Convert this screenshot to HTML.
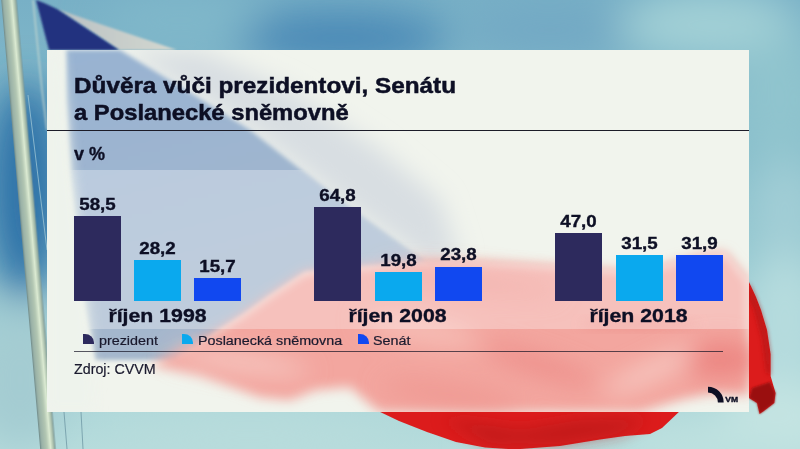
<!DOCTYPE html>
<html><head><meta charset="utf-8">
<style>
html,body{margin:0;padding:0;width:800px;height:449px;overflow:hidden;}
body{position:relative;font-family:"Liberation Sans",sans-serif;background:#7db3c8;}
#bg{position:absolute;left:0;top:0;width:800px;height:449px;}
#panel{position:absolute;left:47px;top:50px;width:702px;height:362px;}
.t{position:absolute;white-space:nowrap;color:#0d0f24;line-height:1;}
.b{-webkit-text-stroke:0.35px #0d0f24;}
#tt1,#tt2{-webkit-text-stroke:0.5px #0d0f24;}
.b{font-weight:bold;}
.bar{position:absolute;}
.c1{background:#2d2a5d;}
.c2{background:#0aa9ee;}
.c3{background:#1148f0;}
.hl{position:absolute;height:1.5px;background:#2a2a3a;}
.ico{position:absolute;width:10.8px;height:10.3px;border-top-right-radius:9px 8.5px;}
</style></head><body>
<svg id="bg" width="800" height="449" viewBox="0 0 800 449">
<defs>
<linearGradient id="sky" x1="0" y1="0" x2="0" y2="1">
<stop offset="0" stop-color="#78b0c6"/>
<stop offset="0.45" stop-color="#8cc2cd"/>
<stop offset="1" stop-color="#b6dcdc"/>
</linearGradient>
<linearGradient id="pole" x1="0" y1="0" x2="1" y2="0">
<stop offset="0" stop-color="#6c8888"/>
<stop offset="0.12" stop-color="#98b0a6"/>
<stop offset="0.45" stop-color="#b2c6b2"/>
<stop offset="0.68" stop-color="#dbead2"/>
<stop offset="0.85" stop-color="#aec2ae"/>
<stop offset="1" stop-color="#7a9898"/>
</linearGradient>
<linearGradient id="wstripe" x1="0" y1="0" x2="1" y2="0">
<stop offset="0" stop-color="#b9c1c4"/>
<stop offset="1" stop-color="#d4d8d0"/>
</linearGradient>
<filter id="bl05" x="-50%" y="-50%" width="200%" height="200%"><feGaussianBlur stdDeviation="0.5"/></filter>
<filter id="bl1" x="-50%" y="-50%" width="200%" height="200%"><feGaussianBlur stdDeviation="0.8"/></filter>
<filter id="bl2" x="-50%" y="-50%" width="200%" height="200%"><feGaussianBlur stdDeviation="2"/></filter>
<filter id="bl8" x="-50%" y="-50%" width="200%" height="200%"><feGaussianBlur stdDeviation="8"/></filter>
<filter id="bl20" x="-50%" y="-50%" width="200%" height="200%"><feGaussianBlur stdDeviation="20"/></filter>
</defs>
<rect width="800" height="449" fill="url(#sky)"/>
<g filter="url(#bl20)">
<ellipse cx="25" cy="190" rx="40" ry="110" fill="#2f72a8"/>
<ellipse cx="20" cy="380" rx="50" ry="70" fill="#a4ccd2"/>
<ellipse cx="340" cy="38" rx="110" ry="28" fill="#4a88b6"/>
<ellipse cx="180" cy="20" rx="80" ry="25" fill="#80b8ca"/>
<ellipse cx="550" cy="30" rx="90" ry="25" fill="#72a8c4"/>
<ellipse cx="710" cy="25" rx="90" ry="35" fill="#a2d0d6"/>
<ellipse cx="780" cy="100" rx="45" ry="70" fill="#90c4ce"/>
<ellipse cx="785" cy="210" rx="35" ry="50" fill="#a2ced6"/>
<ellipse cx="785" cy="320" rx="40" ry="70" fill="#b6dcde"/>
<ellipse cx="780" cy="420" rx="60" ry="40" fill="#c4e4e2"/>
<ellipse cx="250" cy="440" rx="150" ry="25" fill="#b8dcdc"/>
<ellipse cx="700" cy="445" rx="80" ry="20" fill="#c0e2e0"/>
</g>
<!-- rope -->
<polyline points="33,0 36,30 42,90 47,130" stroke="#c8d8d0" stroke-width="1.2" fill="none" filter="url(#bl1)"/>
<line x1="28" y1="95" x2="47" y2="250" stroke="#9cc4d4" stroke-width="0.8"/>
<line x1="64" y1="412" x2="67" y2="449" stroke="#6f98a4" stroke-width="0.8"/>
<line x1="81" y1="412" x2="83" y2="449" stroke="#6f98a4" stroke-width="0.8"/>
<!-- flag white stripe (outside) -->
<polygon points="57,9 100,24 177,50 119,50" fill="url(#wstripe)" filter="url(#bl1)"/>
<!-- flag blue (outside) -->
<polygon points="36,0 44,3 57,9 119,50 49,50" fill="#22307f" filter="url(#bl1)"/>
<!-- red right bulge -->
<polygon points="745,282 749,282 756,297 761,310 767,330 770.6,354 770.6,376 775.5,393 774.3,403 764.5,410.5 759.6,414 757,403 749,398 745,398" fill="#dc1a1a" filter="url(#bl05)"/>
<polygon points="749,282 756,297 761,310 767,330 770.6,354 770.6,376 766,372 762,340 754,310 749,300" fill="#a81212" opacity="0.55" filter="url(#bl2)"/>
<polygon points="752,388 770,382 775.5,393 774.3,403 764.5,410.5 759.6,414 757,403 749,398" fill="#8a1010" opacity="0.8" filter="url(#bl1)"/>
<!-- red bottom -->
<polygon points="376,410 681,410 662,428 650,434 625,436 600,439.5 560,446 514,449.5 485,447.5 456,442 427,432 399,421" fill="#dc1c1c" filter="url(#bl05)"/>
<polygon points="440,418 520,430 580,420 650,418 620,434 560,444 490,444" fill="#b01a1a" opacity="0.6" filter="url(#bl8)"/>
<!-- pole -->
<g transform="translate(1,-2) rotate(-4.96)"><rect x="0" y="0" width="15.5" height="460" fill="url(#pole)" filter="url(#bl05)"/></g>
</svg>
<svg id="panel" width="702" height="362" viewBox="47 50 702 362">
<defs>
<filter id="pb2" x="-50%" y="-50%" width="200%" height="200%"><feGaussianBlur stdDeviation="2"/></filter>
<filter id="pb6" x="-50%" y="-50%" width="200%" height="200%"><feGaussianBlur stdDeviation="6"/></filter>
<filter id="pb12" x="-50%" y="-50%" width="200%" height="200%"><feGaussianBlur stdDeviation="12"/></filter>
<linearGradient id="bluegr" x1="0" y1="0" x2="0.3" y2="1">
<stop offset="0" stop-color="#98b3d2"/>
<stop offset="1" stop-color="#a6b8cc"/>
</linearGradient>
<clipPath id="bandclip"><rect x="47" y="170" width="702" height="159"/></clipPath>
<mask id="bandmask" maskUnits="userSpaceOnUse" x="47" y="50" width="702" height="362"><g clip-path="url(#bandclip)"><g filter="url(#pb2)"><polygon points="66,50 120,50 202,100 250,130 350,208 425,262 345,268 305,272 270,295 242,315 215,332 195,348 175,360 95,360 84,300 70,170 66,100" fill="#fff"/><polygon points="345,268 425,262 480,262 560,266 640,272 700,255 725,252 749,281 749,395 712,393 680,400 640,412 380,412 365,400 350,387 315,390 290,400 260,397 200,375 150,365 180,350 215,332 242,315 270,295 305,272" fill="#fff"/></g></g></mask>
</defs>
<rect x="47" y="50" width="702" height="362" fill="#f1f4ed"/>

<polygon points="120,50 200,50 290,90 380,150 440,200 460,262 425,262 350,208 250,130 202,100" fill="#d8dee2" filter="url(#pb12)"/>
<polygon points="66,50 120,50 202,100 250,130 350,208 425,262 345,268 305,272 270,295 242,315 215,332 195,348 175,360 95,360 84,300 70,170 66,100" fill="url(#bluegr)" filter="url(#pb2)"/>
<polygon points="345,268 425,262 480,262 560,266 640,272 700,255 725,252 749,281 749,395 712,393 680,400 640,412 380,412 365,400 350,387 315,390 290,400 260,397 200,375 150,365 180,350 215,332 242,315 270,295 305,272" fill="#f3a69f" filter="url(#pb6)"/>
<g filter="url(#pb12)">
<ellipse cx="470" cy="282" rx="90" ry="9" fill="#ee948e" transform="rotate(6 470 282)"/>
<ellipse cx="540" cy="365" rx="60" ry="8" fill="#ec8a86" transform="rotate(18 540 365)"/>
<ellipse cx="720" cy="360" rx="40" ry="18" fill="#ec8682"/>
<ellipse cx="240" cy="362" rx="70" ry="9" fill="#f6cac4" transform="rotate(8 240 362)"/>
<ellipse cx="450" cy="395" rx="70" ry="9" fill="#ee9690" transform="rotate(8 450 395)"/>
<ellipse cx="420" cy="330" rx="60" ry="12" fill="#f6c0b8" transform="rotate(10 420 330)"/>
<ellipse cx="650" cy="372" rx="50" ry="7" fill="#f8d4ce" transform="rotate(-25 650 372)"/>
</g>
<ellipse cx="640" cy="324" rx="60" ry="5" fill="#ee948e" filter="url(#pb6)"/>

<rect x="47" y="170" width="702" height="159" fill="#fff" fill-opacity="0.3" mask="url(#bandmask)"/>
<polygon points="47,50 62,50 72,170 90,330 95,412 47,412" fill="#eef3ec" filter="url(#pb6)"/>
</svg>
<div class="hl" style="left:47px;top:129.6px;width:702px;height:1.4px;background:#1c1c28;"></div>

<div class="t b" id="tt1" style="left:74px;top:75.1px;font-size:22px;transform:scaleX(1.104);transform-origin:0 0;">Důvěra vůči prezidentovi, Senátu</div>
<div class="t b" id="tt2" style="left:74px;top:101.6px;font-size:22px;transform:scaleX(1.08);transform-origin:0 0;">a Poslanecké sněmovně</div>
<div class="t b" id="vp" style="left:74px;top:145px;font-size:18px;">v %</div>

<!-- bars: bottom 301 -->
<div class="bar c1" style="left:73.5px;top:216.0px;width:47px;height:85.20px;"></div>
<div class="bar c2" style="left:133.7px;top:260.0px;width:47.3px;height:41.20px;"></div>
<div class="bar c3" style="left:194px;top:278.0px;width:47px;height:23.20px;"></div>
<div class="bar c1" style="left:314px;top:207.0px;width:47px;height:94.20px;"></div>
<div class="bar c2" style="left:374.5px;top:272.0px;width:47px;height:29.20px;"></div>
<div class="bar c3" style="left:435px;top:266.5px;width:47px;height:34.70px;"></div>
<div class="bar c1" style="left:555px;top:233.0px;width:47px;height:68.20px;"></div>
<div class="bar c2" style="left:615.5px;top:255.3px;width:47px;height:45.90px;"></div>
<div class="bar c3" style="left:675.8px;top:255.0px;width:47px;height:46.20px;"></div>

<div class="t b v" style="left:58.5px;width:77px;text-align:center;top:196.56px;font-size:16px;transform:scaleX(1.17);">58,5</div>
<div class="t b v" style="left:118.69999999999999px;width:77px;text-align:center;top:240.56px;font-size:16px;transform:scaleX(1.17);">28,2</div>
<div class="t b v" style="left:179px;width:77px;text-align:center;top:258.56px;font-size:16px;transform:scaleX(1.17);">15,7</div>
<div class="t b v" style="left:299px;width:77px;text-align:center;top:187.56px;font-size:16px;transform:scaleX(1.17);">64,8</div>
<div class="t b v" style="left:359.5px;width:77px;text-align:center;top:252.56px;font-size:16px;transform:scaleX(1.17);">19,8</div>
<div class="t b v" style="left:420px;width:77px;text-align:center;top:247.06px;font-size:16px;transform:scaleX(1.17);">23,8</div>
<div class="t b v" style="left:540px;width:77px;text-align:center;top:213.56px;font-size:16px;transform:scaleX(1.17);">47,0</div>
<div class="t b v" style="left:600.5px;width:77px;text-align:center;top:235.86px;font-size:16px;transform:scaleX(1.17);">31,5</div>
<div class="t b v" style="left:660.8px;width:77px;text-align:center;top:235.56px;font-size:16px;transform:scaleX(1.17);">31,9</div>

<div class="t b cat" style="left:43.5px;width:227px;text-align:center;top:307px;font-size:18.5px;transform:scaleX(1.15);">říjen 1998</div>
<div class="t b cat" style="left:284px;width:227px;text-align:center;top:307px;font-size:18.5px;transform:scaleX(1.15);">říjen 2008</div>
<div class="t b cat" style="left:525px;width:227px;text-align:center;top:307px;font-size:18.5px;transform:scaleX(1.15);">říjen 2018</div>

<div class="ico c1" style="left:83px;top:333.5px;"></div>
<div class="t lg" style="left:99.3px;top:334.6px;font-size:12.3px;transform:scaleX(1.165);transform-origin:0 0;-webkit-text-stroke:0.2px #1a1a2e;color:#1a1a2e;">prezident</div>
<div class="ico c2" style="left:182px;top:333.5px;"></div>
<div class="t lg" style="left:198px;top:334.6px;font-size:12.3px;transform:scaleX(1.165);transform-origin:0 0;-webkit-text-stroke:0.2px #1a1a2e;color:#1a1a2e;">Poslanecká sněmovna</div>
<div class="ico c3" style="left:358px;top:333.5px;"></div>
<div class="t lg" style="left:373.4px;top:334.6px;font-size:12.3px;transform:scaleX(1.165);transform-origin:0 0;-webkit-text-stroke:0.2px #1a1a2e;color:#1a1a2e;">Senát</div>
<div class="hl" style="left:73.5px;top:350.8px;width:649.5px;height:1.2px;background:rgba(20,18,36,0.7);"></div>
<div class="t" style="left:73.7px;top:361.6px;font-size:14px;transform:scaleX(1.02);transform-origin:0 0;-webkit-text-stroke:0.2px #1a1a2e;color:#1a1a2e;">Zdroj: CVVM</div>

<!-- logo -->
<svg style="position:absolute;left:700px;top:380px;" width="45" height="30" viewBox="0 0 45 30">
<path d="M8 6.7 A15.7 15.7 0 0 1 23.7 22.4 L17.9 22.4 A9.9 9.9 0 0 0 8 12.5 Z" fill="#0d0f24"/>
<text x="0" y="0" transform="translate(25.2 22.4) scale(1.22 1)" font-family="Liberation Sans" font-weight="bold" font-size="7" fill="#0d0f24" stroke="#0d0f24" stroke-width="0.35">VM</text>
</svg>
</body></html>
